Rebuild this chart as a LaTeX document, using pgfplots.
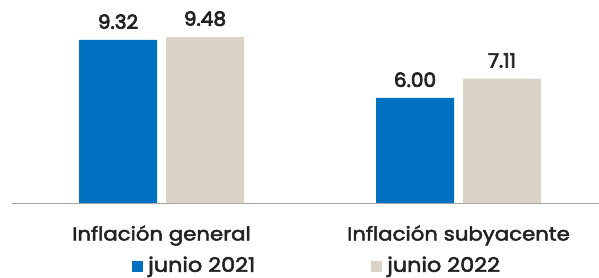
\documentclass[border=0pt]{standalone}
\usepackage{pgfplots}
\pgfplotsset{compat=1.18}
\usepackage{fontspec}
\setmainfont{Poppins}
\newfontfamily\medfont{Poppins}[FakeBold=2.6, FakeStretch=1.12]
\newfontfamily\numfont{Poppins}[FakeBold=3.6, FakeStretch=1.03]
\definecolor{cblue}{HTML}{0070C0}
\definecolor{cbeige}{HTML}{D9D3C8}
\definecolor{cgray}{HTML}{A6A6A6}
\definecolor{ctext}{HTML}{222222}
\begin{document}
\begin{tikzpicture}[x=1pt,y=1pt]
\path[use as bounding box] (0,0) rectangle (599,278);
\begin{axis}[
  at={(12pt,75pt)}, anchor=south west,
  scale only axis, width=587pt, height=175pt,
  xmin=0, xmax=587, ymin=0, ymax=10,
  axis line style={draw=none},
  ytick=\empty,
  ybar, bar width=78pt,
  xtick={149.5,446.5},
  xticklabels={Inflación general, Inflación subyacente},
  xtick style={draw=none},
  major tick length=0pt,
  xticklabel style={anchor=base, yshift=-37.5pt, font=\medfont\fontsize{19}{22}\selectfont, text=ctext},
  nodes near coords,
  nodes near coords style={font=\numfont\fontsize{19.5}{24}\selectfont, text=ctext, anchor=south, yshift=7.5pt},
  point meta=explicit symbolic,
  legend columns=2,
  legend style={draw=none, at={(axis cs:120,-3.54)}, anchor=west, inner sep=0pt,
    font=\medfont\fontsize{20}{22}\selectfont, text=ctext,
    /tikz/every even column/.append style={column sep=114pt},
    /tikz/every odd column/.append style={column sep=3pt}},
  legend image code/.code={\fill[#1] (0pt,-7pt) rectangle (11pt,4pt);},
  clip=false,
]
\addplot[fill=cblue, draw=none, bar shift=-43.5pt] coordinates {(149.5,9.32) [9.32] (446.5,6.00) [6.00]};
\addplot[fill=cbeige, draw=none, bar shift=43.5pt] coordinates {(149.5,9.48) [9.48] (446.5,7.11) [7.11]};
\draw[cgray, line width=1pt] (axis cs:0,0) -- (axis cs:587,0);
\legend{junio 2021, junio 2022}
\end{axis}
\end{tikzpicture}
\end{document}
